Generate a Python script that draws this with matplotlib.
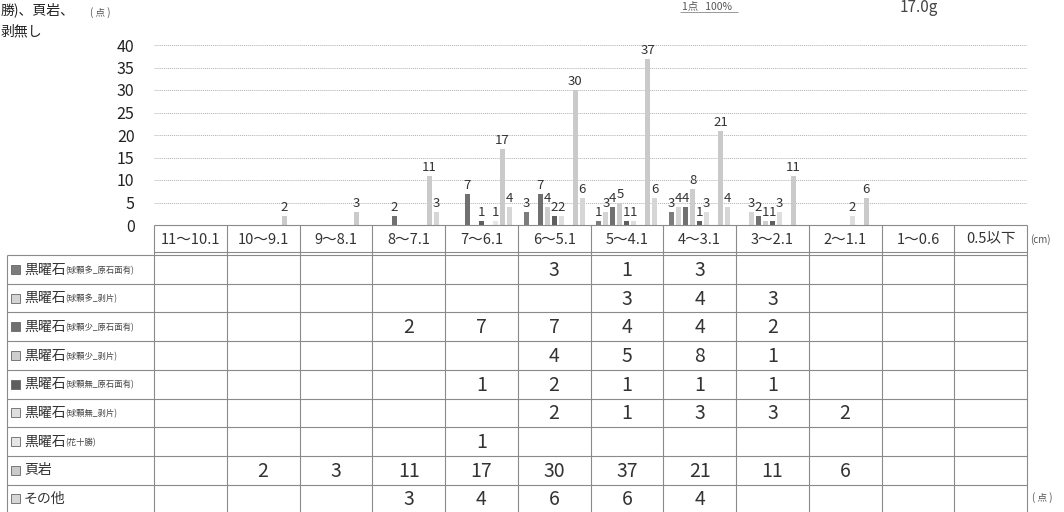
import matplotlib
matplotlib.use("Agg")
import matplotlib.pyplot as plt
from matplotlib.patches import Rectangle

plt.rcParams['font.family'] = ['Liberation Sans Narrow', 'Noto Sans CJK JP', 'DejaVu Sans']

# size classes (cm)
categories = ['11～10.1', '10～9.1', '9～8.1', '8～7.1', '7～6.1', '6～5.1',
              '5～4.1', '4～3.1', '3～2.1', '2～1.1', '1～0.6', '0.5以下']

# row labels: main name + small note
row_names = ['黒曜石', '黒曜石', '黒曜石', '黒曜石', '黒曜石', '黒曜石', '黒曜石', '頁岩', 'その他']
row_notes = ['(球顆多_原石面有)', '(球顆多_剥片)', '(球顆少_原石面有)', '(球顆少_剥片)',
             '(球顆無_原石面有)', '(球顆無_剥片)', '(花十勝)', '', '']

# counts per row (0 = empty cell)
obs_many_cortex = [0, 0, 0, 0, 0, 3, 1, 3, 0, 0, 0, 0]
obs_many_flake = [0, 0, 0, 0, 0, 0, 3, 4, 3, 0, 0, 0]
obs_few_cortex = [0, 0, 0, 2, 7, 7, 4, 4, 2, 0, 0, 0]
obs_few_flake = [0, 0, 0, 0, 0, 4, 5, 8, 1, 0, 0, 0]
obs_none_cortex = [0, 0, 0, 0, 1, 2, 1, 1, 1, 0, 0, 0]
obs_none_flake = [0, 0, 0, 0, 0, 2, 1, 3, 3, 2, 0, 0]
obs_tokachi = [0, 0, 0, 0, 1, 0, 0, 0, 0, 0, 0, 0]
shale = [0, 2, 3, 11, 17, 30, 37, 21, 11, 6, 0, 0]
others = [0, 0, 0, 3, 4, 6, 6, 4, 0, 0, 0, 0]

series = [obs_many_cortex, obs_many_flake, obs_few_cortex, obs_few_flake,
          obs_none_cortex, obs_none_flake, obs_tokachi, shale, others]
colors = ['#7c7c7c', '#d4d4d4', '#707070', '#cdcdcd', '#5e5e5e',
          '#dedede', '#e6e6e6', '#cacaca', '#d6d6d6']

W, H = 1064, 512
fig = plt.figure(figsize=(W / 100, H / 100), dpi=100)

# layout in pixels
col_x0, col_w = 154, 72.75
plot_bottom, plot_top = 225, 45

ax = fig.add_axes([col_x0 / W, (H - plot_bottom) / H, 12 * col_w / W,
                   (plot_bottom - plot_top) / H])
ax.set_xlim(0, 12)
ax.set_ylim(0, 40)
for s in ax.spines.values():
    s.set_visible(False)
ax.set_xticks([])
ax.set_yticks(range(0, 41, 5))
ax.tick_params(axis='y', length=0, pad=14, labelsize=11.5, labelcolor='#222222')
ax.hlines(range(5, 41, 5), 0, 12, colors='#b0b0b0', linestyles=(0, (1, 1)), lw=0.7)

step, bw = 0.096, 0.07
for k, (vals, c) in enumerate(zip(series, colors)):
    xs = [i + 0.5 + (k - 4) * step for i in range(len(categories))]
    ax.bar(xs, vals, width=bw, color=c, edgecolor='none', zorder=3)
    for x, v in zip(xs, vals):
        if v:
            ax.text(x, v + 0.4, str(v), ha='center', va='bottom', fontsize=9.5,
                    color='#333333', clip_on=False)

# table in pixel coordinates
tax = fig.add_axes([0, 0, 1, 1])
tax.set_xlim(0, W)
tax.set_ylim(H, 0)
tax.axis('off')

lc, lw = '#8a8a8a', 0.8
lab_x0 = 7
col_x1 = col_x0 + 12 * col_w
head_top, head_bot = 225, 255
row_h = 28.7
n_rows = len(series)

# header
tax.hlines(head_top, col_x0, col_x1, color=lc, lw=lw)
tax.hlines([head_bot - 3, head_bot], col_x0, col_x1, color=lc, lw=lw)
tax.hlines(head_bot, lab_x0, col_x0, color=lc, lw=lw)
for i, cat in enumerate(categories):
    tax.text(col_x0 + (i + 0.5) * col_w, (head_top + head_bot - 3) / 2 + 1, cat,
             ha='center', va='center', fontsize=10.5, color='#333333')
for i in range(13):
    tax.vlines(col_x0 + i * col_w, head_top, H, color=lc, lw=lw)
tax.vlines(lab_x0, head_bot, H, color=lc, lw=lw)

cjk = ['Noto Sans CJK JP', 'DejaVu Sans']

# rows
for r in range(n_rows):
    top = head_bot + r * row_h
    if r > 0:
        tax.hlines(top, lab_x0, col_x1, color=lc, lw=lw)
    yc = top + row_h / 2
    tax.add_patch(Rectangle((11, yc - 4.5), 9, 9, facecolor=colors[r],
                            edgecolor='#666666', lw=0.6))
    tax.text(24, yc, row_names[r], ha='left', va='center', fontsize=10,
             color='#333333', family=cjk)
    if row_notes[r]:
        tax.text(65, yc + 1, row_notes[r], ha='left', va='center', fontsize=6,
                 color='#444444', family=cjk)
    for i, v in enumerate(series[r]):
        if v:
            tax.text(col_x0 + (i + 0.5) * col_w, yc + 1, str(v), ha='center',
                     va='center', fontsize=14, color='#333333')

# units
tax.text(1030, 240, '(cm)', ha='left', va='center', fontsize=7, color='#555555')
tax.text(1032, 498, '( 点 )', ha='left', va='center', fontsize=7, color='#555555', family=cjk)
tax.text(90, 13, '( 点 )', ha='left', va='center', fontsize=7, color='#555555', family=cjk)

# text around the chart
tax.text(1, 10, '勝)、頁岩、', ha='left', va='center', fontsize=10, color='#222222', family=cjk)
tax.text(1, 31, '剥無し', ha='left', va='center', fontsize=10, color='#222222', family=cjk)
tax.text(682, 6, '1点   100%', ha='left', va='center', fontsize=7.5, color='#555555', family=cjk)
tax.hlines(12, 680, 738, color='#888888', lw=0.6)
tax.text(900, 7, '17.0g', ha='left', va='center', fontsize=11, color='#444444')

fig.savefig('out.png', dpi=100)
